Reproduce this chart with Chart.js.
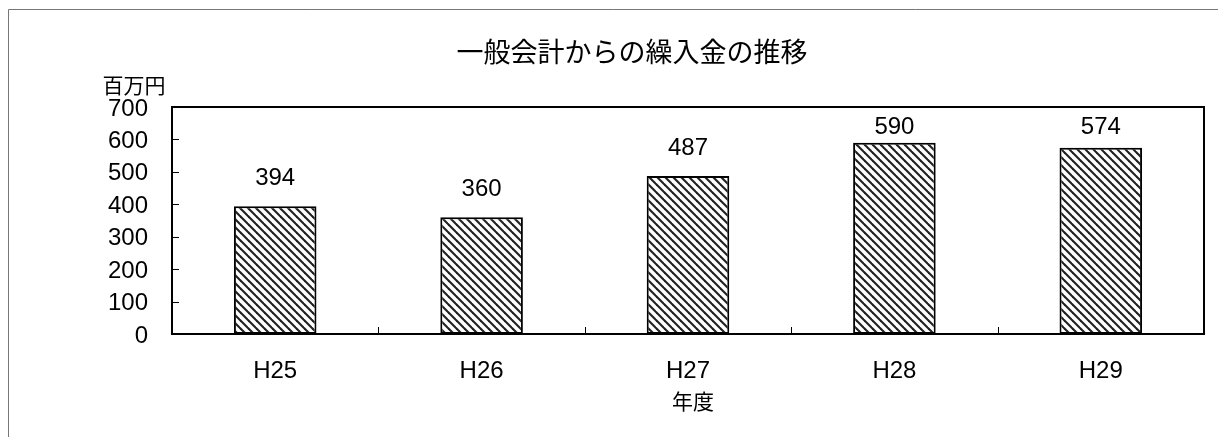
<!DOCTYPE html>
<html>
<head>
<meta charset="utf-8">
<script src="https://cdn.jsdelivr.net/npm/chart.js@4"></script>
<style>
html,body{margin:0;padding:0;background:#fff;overflow:hidden;}
#wrap{position:absolute;left:0;top:0;width:1218px;height:437px;}
</style>
</head>
<body>
<div id="wrap"><canvas id="c" width="1218" height="437"></canvas></div>
<script>
const categories = ['H25', 'H26', 'H27', 'H28', 'H29'];
const values = [394, 360, 487, 590, 574];
const yMin = 0, yMax = 700, yStep = 100;
const titleText = '一般会計からの繰入金の推移';
const yUnitText = '百万円';
const xTitleText = '年度';

const FONT = '"Liberation Sans", "Noto Sans CJK JP", sans-serif';
const CJK = '"Noto Sans CJK JP", "Liberation Sans", sans-serif';

function makePattern() {
  const p = document.createElement('canvas');
  p.width = 8; p.height = 8;
  const g = p.getContext('2d');
  g.fillStyle = '#fff';
  g.fillRect(0, 0, 8, 8);
  g.strokeStyle = '#222';
  g.lineWidth = 2.1;
  for (const o of [-8, 0, 8]) {
    g.beginPath();
    g.moveTo(o - 1, -1);
    g.lineTo(o + 9, 9);
    g.stroke();
  }
  return document.getElementById('c').getContext('2d').createPattern(p, 'repeat');
}

const extras = {
  id: 'extras',
  beforeDraw(chart) {
    const ctx = chart.ctx;
    ctx.save();
    ctx.fillStyle = '#fff';
    ctx.fillRect(0, 0, chart.width, chart.height);
    ctx.strokeStyle = '#777';
    ctx.lineWidth = 1;
    ctx.beginPath();
    ctx.moveTo(8.5, chart.height);
    ctx.lineTo(8.5, 9.5);
    ctx.lineTo(chart.width, 9.5);
    ctx.stroke();
    ctx.restore();
  },
  afterDatasetsDraw(chart) {
    const ctx = chart.ctx;
    const a = chart.chartArea;
    const xs = chart.scales.x;
    const ys = chart.scales.y;
    ctx.save();
    // plot box
    ctx.strokeStyle = '#000';
    ctx.lineWidth = 2;
    ctx.strokeRect(a.left, a.top, a.right - a.left, a.bottom - a.top);
    // y ticks (inside)
    ctx.lineWidth = 1;
    ctx.beginPath();
    for (let v = yMin + yStep; v < yMax; v += yStep) {
      const y = Math.round(ys.getPixelForValue(v)) + 0.5;
      ctx.moveTo(a.left, y);
      ctx.lineTo(a.left + 7, y);
    }
    // x ticks at category boundaries (inside)
    for (let i = 0; i < categories.length - 1; i++) {
      const x = Math.round((xs.getPixelForValue(i) + xs.getPixelForValue(i + 1)) / 2) + 0.5;
      ctx.moveTo(x, a.bottom);
      ctx.lineTo(x, a.bottom - 7);
    }
    ctx.stroke();
    // data labels (kept inside the plot box)
    ctx.fillStyle = '#000';
    ctx.font = '24px ' + FONT;
    ctx.textAlign = 'center';
    ctx.textBaseline = 'middle';
    const meta = chart.getDatasetMeta(0);
    meta.data.forEach((bar, i) => {
      const y = Math.max(bar.y - 28, a.top + 20);
      ctx.fillText(String(values[i]), bar.x, y);
    });
    // title
    ctx.font = '27px ' + CJK;
    ctx.fillText(titleText, 632, 52);
    // y unit
    ctx.font = '21px ' + CJK;
    ctx.fillText(yUnitText, 134, 85);
    // x title
    ctx.fillText(xTitleText, (a.left + a.right) / 2 + 5, 401);
    ctx.restore();
  }
};

const chart = new Chart(document.getElementById('c'), {
  type: 'bar',
  data: {
    labels: categories,
    datasets: [{
      data: values,
      backgroundColor: makePattern(),
      borderColor: '#000',
      borderWidth: 2,
      borderSkipped: false,
      barPercentage: 0.4,
      categoryPercentage: 1.0
    }]
  },
  options: {
    responsive: false,
    animation: false,
    devicePixelRatio: 1,
    layout: { padding: { left: 0, top: 107, right: 14, bottom: 0 } },
    plugins: { legend: { display: false }, title: { display: false }, tooltip: { enabled: false } },
    scales: {
      x: {
        grid: { display: false, drawTicks: false, tickLength: 0 },
        border: { display: false },
        ticks: { color: '#000', font: { family: FONT, size: 24 }, padding: 23, maxRotation: 0 },
        afterFit(s) { s.height = 103; }
      },
      y: {
        min: yMin, max: yMax,
        grid: { display: false, drawTicks: false, tickLength: 0 },
        border: { display: false },
        ticks: { stepSize: yStep, color: '#000', font: { family: FONT, size: 24 }, padding: 24, labelOffset: 2 },
        afterFit(s) { s.width = 172; }
      }
    }
  },
  plugins: [extras]
});
</script>
</body>
</html>
